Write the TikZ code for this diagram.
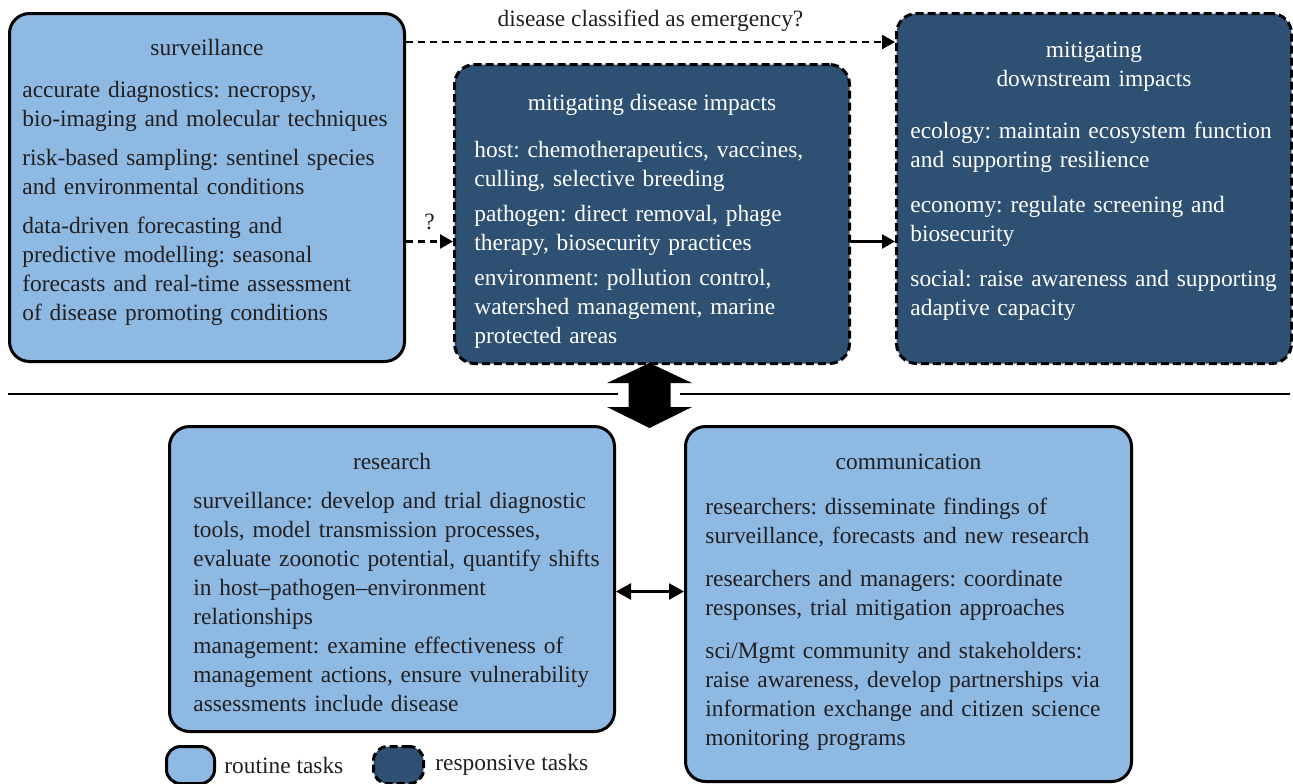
\documentclass[tikz,border=0pt]{standalone}
\usepackage{fontspec}
\setmainfont{Liberation Serif}
\usepackage{tikz}
\usetikzlibrary{arrows.meta, positioning, calc}

\definecolor{routineblue}{RGB}{141,185,227}
\definecolor{responsiveblue}{RGB}{46,80,115}
\definecolor{inkgrey}{RGB}{35,31,32}

\frenchspacing

\begin{document}
\begin{tikzpicture}[x=0.5pt, y=-0.5pt,
    routine/.style={draw=black, line width=1.5pt, fill=routineblue,
        rounded corners=10pt, anchor=north west, inner sep=0pt},
    responsive/.style={routine, fill=responsiveblue,
        dash pattern=on 4pt off 2pt},
    labeltext/.style={inner sep=0pt, text=inkgrey,
        font=\fontsize{11.7}{14.5}\selectfont},
    boxtitle/.style={labeltext, anchor=base},
    boxbody/.style={labeltext, anchor=base west, text width=215pt, align=left},
    ondark/.style={text=white},
    flow/.style={line width=1.25pt, -{Triangle[length=6.5pt, width=7pt]}},
    flowdash/.style={flow, dash pattern=on 3.5pt off 2.5pt},
    flowboth/.style={line width=1.25pt,
        {Triangle[length=7.5pt, width=8pt]}-{Triangle[length=7.5pt, width=8pt]}},
]

\useasboundingbox (0,0) rectangle (1293,783);

% top row
\node [routine,
    minimum width=197.5pt,
    minimum height=174pt
] (surv) at (8,12) {};

\node [responsive,
    minimum width=197.5pt,
    minimum height=149.5pt
] (mitdis) at (453,63) {};

\node [responsive,
    minimum width=197.5pt,
    minimum height=175pt
] (mitdown) at (895,12) {};

% bottom row
\node [routine,
    minimum width=222.5pt,
    minimum height=152.5pt
] (research) at (168,425) {};

\node [routine,
    minimum width=223pt,
    minimum height=177.5pt
] (comm) at (684,425) {};

% titles
\node [boxtitle, below=21.5pt of surv.north, anchor=base] (surv_title) {surveillance};
\node [boxtitle, ondark, below=23.5pt of mitdis.north, anchor=base] (mitdis_title)
    {mitigating disease impacts};
\node [boxtitle, ondark, text width=197.5pt, align=center,
    below=22.5pt of mitdown.north, anchor=base] (mitdown_title)
    {mitigating\\downstream impacts};
\node [boxtitle, below=22pt of research.north, anchor=base] (research_title) {research};
\node [boxtitle, below=22pt of comm.north, anchor=base] (comm_title) {communication};

% box texts
\node [boxbody, below right=42.5pt and 7pt of surv.north west, anchor=base west] (surv_text)
    {accurate diagnostics: necropsy,\\
     bio-imaging and molecular techniques\\[5pt]
     risk-based sampling: sentinel species\\
     and environmental conditions\\[5pt]
     data-driven forecasting and\\
     predictive modelling: seasonal\\
     forecasts and real-time assessment\\
     of disease promoting conditions};

\node [boxbody, ondark, below right=47pt and 10.5pt of mitdis.north west, anchor=base west] (mitdis_text)
    {host: chemotherapeutics, vaccines,\\
     culling, selective breeding\\[3pt]
     pathogen: direct removal, phage\\
     therapy, biosecurity practices\\[3pt]
     environment: pollution control,\\
     watershed management, marine\\
     protected areas};

\node [boxbody, ondark, below right=63pt and 7.5pt of mitdown.north west, anchor=base west] (mitdown_text)
    {ecology: maintain ecosystem function\\
     and supporting resilience\\[8pt]
     economy: regulate screening and\\
     biosecurity\\[8pt]
     social: raise awareness and supporting\\
     adaptive capacity};

\node [boxbody, below right=41.5pt and 12.5pt of research.north west, anchor=base west] (research_text)
    {surveillance: develop and trial diagnostic\\
     tools, model transmission processes,\\
     evaluate zoonotic potential, quantify shifts\\
     in host--pathogen--environment\\
     relationships\\
     management: examine effectiveness of\\
     management actions, ensure vulnerability\\
     assessments include disease};

\node [boxbody, below right=44.5pt and 10.5pt of comm.north west, anchor=base west] (comm_text)
    {researchers: disseminate findings of\\
     surveillance, forecasts and new research\\[7pt]
     researchers and managers: coordinate\\
     responses, trial mitigation approaches\\[7pt]
     sci/Mgmt community and stakeholders:\\
     raise awareness, develop partnerships via\\
     information exchange and citizen science\\
     monitoring programs};

% connectors
\coordinate (askpt) at ([yshift=-13.75pt]mitdis.west);
\coordinate (linkpt) at ($(research.east)!0.5!(comm.west)$);

\draw [flowdash] ([yshift=-15pt]surv.north east) -- ([yshift=-15pt]mitdown.north west)
    node [labeltext, midway, above=4.5pt] (emerg_label) {disease classified as emergency?};
\draw [flowdash] (surv.east |- askpt) -- (askpt)
    node [labeltext, midway, above=5pt] (ask_label) {?};
\draw [flow] (mitdis.east |- askpt) -- (mitdown.west |- askpt);
\draw [flowboth] (research.east |- linkpt) -- (comm.west |- linkpt);

% divider and block arrow
\draw [line width=1pt] (8,394) -- (618,394);
\draw [line width=1pt] (680,394) -- (1290,394);
\fill [black] (649.5,363) -- ++(42.5,20) -- ++(-21.5,0) -- ++(0,24) -- ++(21.5,0)
    -- ++(-42.5,21) -- ++(-42.5,-21) -- ++(21.5,0) -- ++(0,-24) -- ++(-21.5,0) -- cycle;

% legend
\node [routine,
    rounded corners=7pt,
    minimum width=24pt,
    minimum height=18.5pt
] (leg_routine) at (165,745) {};
\node [labeltext, right=4pt of leg_routine] (leg_routine_text) {routine tasks};

\node [responsive,
    rounded corners=7pt,
    minimum width=25pt,
    minimum height=18.5pt
] (leg_responsive) at (372,745) {};
\node [labeltext, right=5pt of leg_responsive] (leg_responsive_text) {responsive tasks};

\end{tikzpicture}
\end{document}
